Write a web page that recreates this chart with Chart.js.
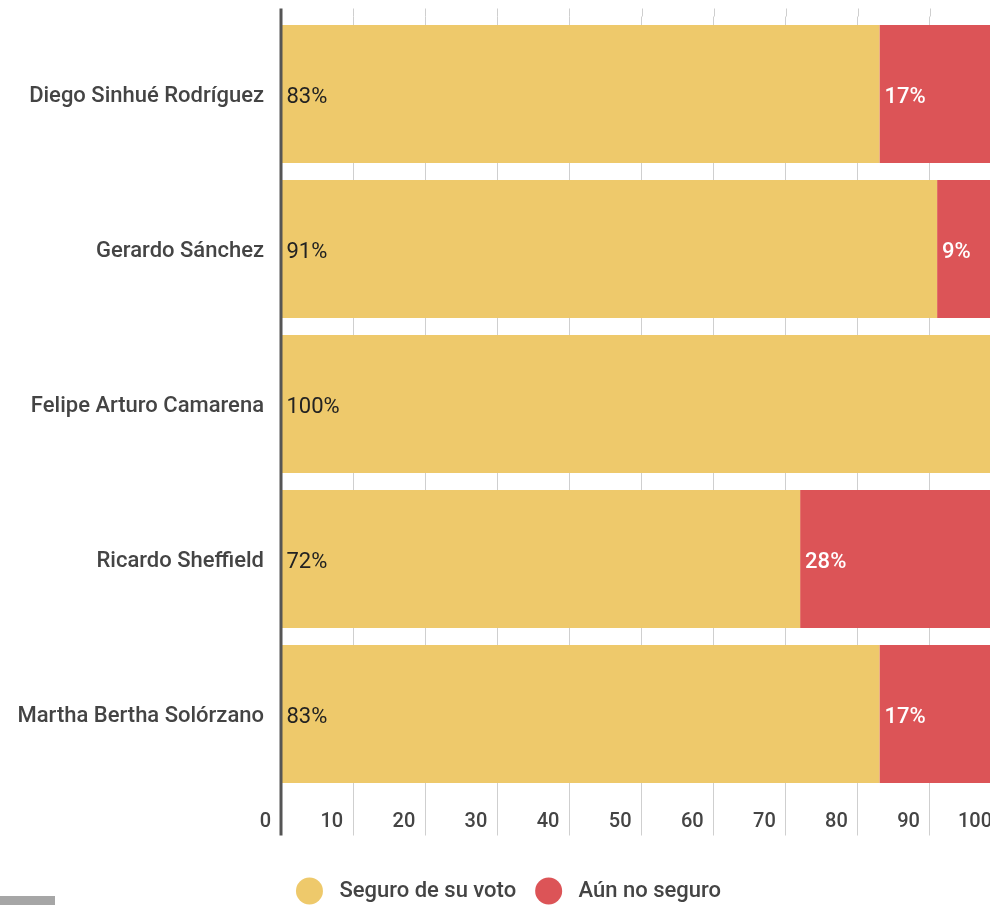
<!DOCTYPE html>
<html>
<head>
<meta charset="utf-8">
<script src="https://cdn.jsdelivr.net/npm/chart.js@4.4.1/dist/chart.umd.min.js"></script>
<style>
  html, body { margin: 0; padding: 0; background: #fff; overflow: hidden; }
  #wrap { position: relative; width: 1010px; height: 905px; }
  #strip { position: absolute; left: 0; top: 896px; width: 55px; height: 9px; background: #a6a6a6; }
</style>
</head>
<body>
<div id="wrap"><canvas id="chart"></canvas></div>
<div id="strip"></div>
<script>
var candidates = [
  'Diego Sinhué Rodríguez',
  'Gerardo Sánchez',
  'Felipe Arturo Camarena',
  'Ricardo Sheffield',
  'Martha Bertha Solórzano'
];
var seguro = [83, 91, 100, 72, 83];
var noSeguro = [17, 9, 0, 28, 17];
var xTicks = [0, 10, 20, 30, 40, 50, 60, 70, 80, 90, 100];

var YELLOW = '#eec96b';
var RED = '#dc5457';
var TEXT = '#444444';

// grid lines reach a little above the plot, the zero axis is drawn over the bars
var gridExtras = {
  id: 'gridExtras',
  beforeDatasetsDraw: function(chart) {
    var ctx = chart.ctx, x = chart.scales.x, top = chart.chartArea.top;
    ctx.save();
    ctx.strokeStyle = '#cfcfcf';
    ctx.lineWidth = 1;
    x.ticks.forEach(function(t) {
      if (t.value === 0) return;
      var px = Math.round(x.getPixelForValue(t.value)) + 0.5;
      ctx.beginPath();
      ctx.moveTo(px, top - 8);
      ctx.lineTo(px, top);
      ctx.stroke();
    });
    ctx.restore();
  },
  afterDatasetsDraw: function(chart) {
    var ctx = chart.ctx, x = chart.scales.x, area = chart.chartArea;
    var px = x.getPixelForValue(0);
    ctx.save();
    ctx.strokeStyle = '#555555';
    ctx.lineWidth = 3;
    ctx.beginPath();
    ctx.moveTo(px, area.top - 8);
    ctx.lineTo(px, area.bottom + 44);
    ctx.stroke();
    ctx.restore();
  }
};

// percentage labels at the start of each segment
var barLabels = {
  id: 'barLabels',
  afterDatasetsDraw: function(chart) {
    var ctx = chart.ctx;
    ctx.save();
    ctx.textAlign = 'left';
    ctx.textBaseline = 'middle';
    chart.data.datasets.forEach(function(ds, i) {
      var meta = chart.getDatasetMeta(i);
      ctx.fillStyle = ds.labelColor;
      ctx.font = ds.labelWeight + ' 22px Roboto';
      meta.data.forEach(function(bar, j) {
        var v = ds.data[j];
        if (!v) return;
        var p = bar.getProps(['base', 'y'], true);
        ctx.fillText(v + '%', p.base + 5, p.y + 3);
      });
    });
    ctx.restore();
  }
};

new Chart(document.getElementById('chart'), {
  type: 'bar',
  data: {
    labels: candidates,
    datasets: [
      { label: 'Seguro de su voto', data: seguro, backgroundColor: YELLOW, labelColor: '#222222', labelWeight: '400' },
      { label: 'Aún no seguro', data: noSeguro, backgroundColor: RED, labelColor: '#ffffff', labelWeight: '500' }
    ]
  },
  options: {
    indexAxis: 'y',
    responsive: true,
    maintainAspectRatio: false,
    animation: false,
    datasets: {
      bar: { barPercentage: 1, categoryPercentage: 0.89, borderWidth: 0 }
    },
    layout: { padding: { top: 16.5, right: 8, bottom: -7, left: 15 } },
    scales: {
      x: {
        stacked: true,
        min: 0,
        max: 100,
        afterBuildTicks: function(s) { s.ticks = xTicks.map(function(v) { return { value: v }; }); },
        afterFit: function(s) { s.height = 69.5; },
        grid: {
          color: function(c) { return c.tick && c.tick.value === 0 ? 'rgba(0,0,0,0)' : '#cfcfcf'; },
          lineWidth: 1,
          tickLength: 44,
          drawTicks: true
        },
        border: { display: false },
        ticks: {
          align: 'end',
          padding: -25.5,
          color: TEXT,
          font: { family: 'Roboto', size: 20, weight: '500' },
          callback: function(v) { return v + '  '; }
        }
      },
      y: {
        stacked: true,
        grid: { display: false, drawTicks: true, tickLength: 17 },
        border: { display: false },
        afterFit: function(s) { s.width = 266; },
        ticks: {
          padding: 0,
          labelOffset: 2,
          color: TEXT,
          font: { family: 'Roboto', size: 22, weight: '500' }
        }
      }
    },
    plugins: {
      tooltip: { enabled: false },
      legend: {
        position: 'bottom',
        labels: {
          usePointStyle: true,
          pointStyle: 'circle',
          pointStyleWidth: 27,
          boxHeight: 19,
          padding: 19,
          color: TEXT,
          font: { family: 'Roboto', size: 22, weight: '500' },
          generateLabels: function(chart) {
            var items = Chart.defaults.plugins.legend.labels.generateLabels(chart);
            items.forEach(function(it) { it.text = ' ' + it.text; });
            return items;
          }
        }
      }
    }
  },
  plugins: [gridExtras, barLabels]
});
</script>
</body>
</html>
